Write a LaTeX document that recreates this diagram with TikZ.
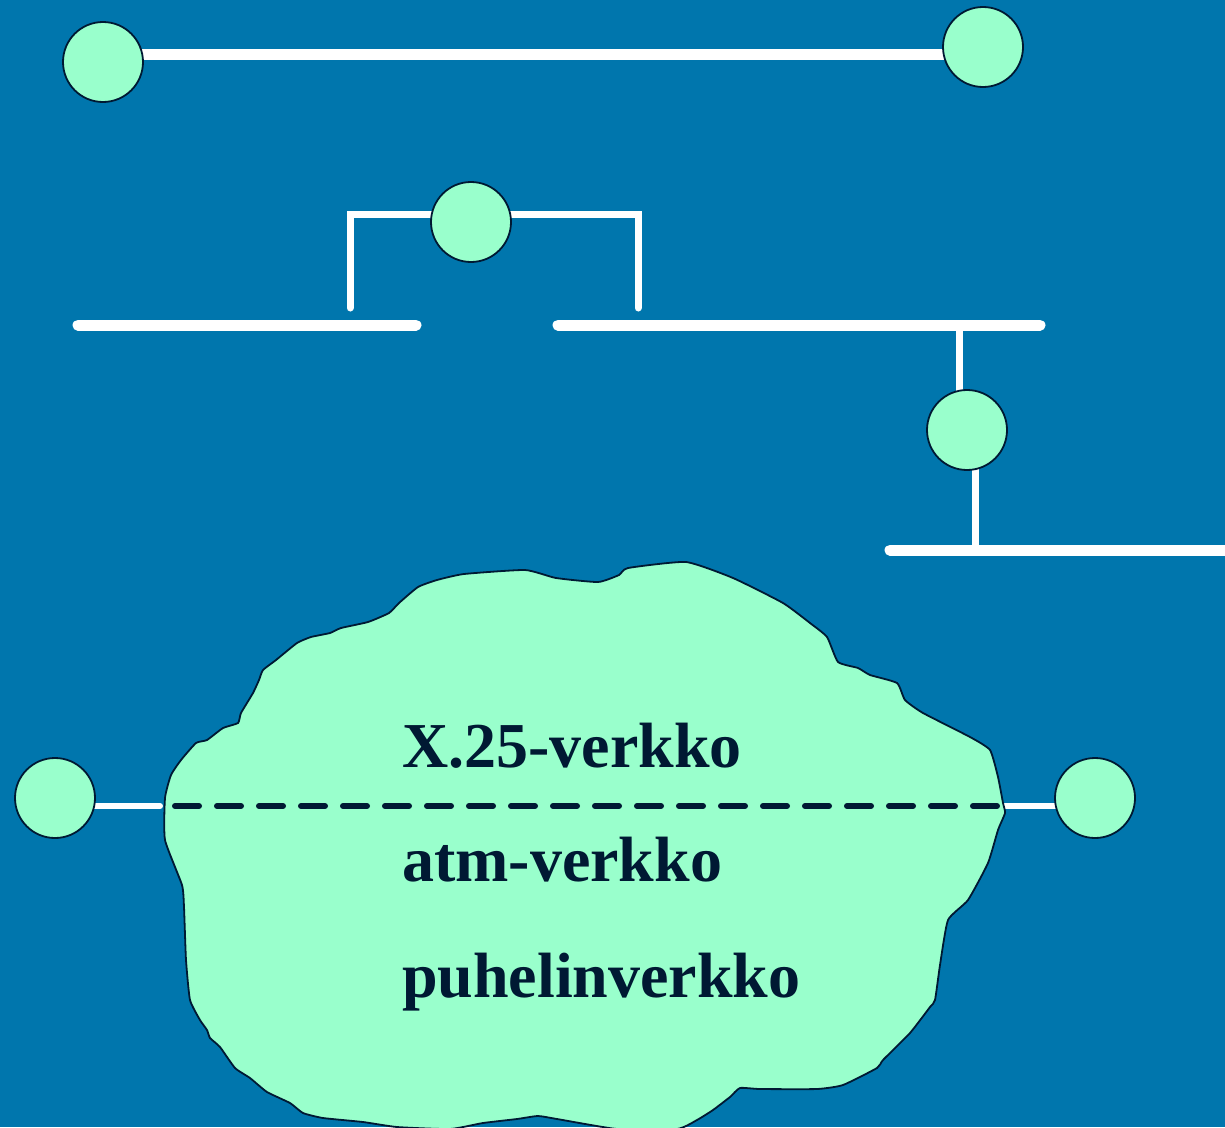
\documentclass[tikz,border=0pt]{standalone}
\usepackage{fontspec}
\setmainfont{Liberation Serif}
\usetikzlibrary{positioning}
\pgfdeclarelayer{back}
\pgfdeclarelayer{wires}
\pgfsetlayers{back,wires,main}
\definecolor{slideblue}{RGB}{0,118,173}
\definecolor{mint}{RGB}{153,255,204}
\definecolor{navy}{RGB}{0,25,51}

\begin{document}
\begin{tikzpicture}[x=1pt, y=-1pt,
    station/.style={circle, draw=navy, line width=1.8pt, fill=mint, minimum size=80pt, inner sep=0pt},
    bus/.style={white, line width=11pt, line cap=round},
    drop/.style={white, line width=7pt, line cap=round},
    netname/.style={anchor=base west, text=navy, inner sep=0pt, font=\bfseries\fontsize{64}{70}\selectfont}]
  \useasboundingbox (0,0) rectangle (1225,1127);
  \begin{pgfonlayer}{back}
    \fill[slideblue] (0,0) rectangle (1225,1127);
  \end{pgfonlayer}

  % Point-to-point link
  \node[station] (g1) at (103,62) {};
  \node[station] (g2) at (983,47) {};

  % Bridged segments
  \node[station] (br) at (471,222) {};
  \node[station] (rt) at (967,430) {};
  \coordinate (lan1a) at (78,325);
  \coordinate (lan1b) at (416,325);
  \coordinate (lan2a) at (558,325);
  \coordinate (lan2b) at (1040,325);
  \coordinate (lan3a) at (890,550);
  \coordinate (lan3b) at (1240,550);
  \coordinate (t1) at (350,308);
  \coordinate (t2) at (638,308);
  \coordinate (t3) at (959,325);
  \coordinate (t4) at (975,550);

  % Hosts across the cloud
  \node[station] (h1) at (55,798) {};
  \node[station] (h2) at (1095,798) {};
  \coordinate (e1) at (160,806);
  \coordinate (e2) at (1003,806);
  \coordinate (d1) at (175,806);
  \coordinate (d2) at (998,806);

  \begin{pgfonlayer}{wires}
    \draw[bus] ([yshift=8pt]g1.center) -- ([yshift=-7pt]g2.center);
    \draw[bus] (lan1a) -- (lan1b);
    \draw[bus] (lan2a) -- (lan2b);
    \draw[bus] (lan3a) -- (lan3b);
    \draw[drop] (t1) |- ([yshift=8pt]br.center) -| (t2);
    \draw[drop] (t3) -- (t3 |- rt.center);
    \draw[drop] (t4) -- (t4 |- rt.center);
    \draw[drop, line width=6pt] ([yshift=-8pt]h1.center) -- (e1);
    \draw[drop, line width=6pt] (e2) -- ([yshift=-8pt]h2.center);
  \end{pgfonlayer}

  % Cloud
  \draw[navy, line width=1.8pt, fill=mint] plot[smooth cycle, tension=0.3] coordinates {
    (165,798) (171,775) (181,760) (196,743) (207,740) (223,728) (238,723) (241,713)
    (253,693) (259,680) (263,670) (276,660) (297,643) (311,637) (330,633) (341,628)
    (368,622) (389,613) (399,603) (418,587) (437,580) (464,574) (525,570) (556,578)
    (598,582) (619,575) (628,568) (686,562) (733,578) (783,603) (810,623) (827,637)
    (838,662) (858,668) (870,675) (897,683) (905,700) (923,713) (970,737) (990,750)
    (998,777) (1003,803) (1005,813) (998,830) (988,863) (968,900) (948,920) (940,965)
    (935,1000) (930,1007) (910,1033) (883,1060) (877,1068) (843,1085) (817,1089)
    (760,1089) (740,1088) (730,1097) (713,1110) (697,1120) (677,1129) (617,1129)
    (557,1119) (538,1116) (517,1119) (483,1123) (450,1129) (397,1127) (363,1122)
    (323,1118) (303,1113) (290,1103) (267,1092) (250,1078) (235,1068) (220,1047)
    (210,1038) (207,1030) (200,1020) (190,1000) (186,960) (184,907) (182,885) (165,840)};
  \draw[navy, line width=6pt, line cap=round, dash pattern=on 24pt off 18pt] (d1) -- (d2);

  \node[netname] (x25) at (402,767) {X.25-verkko};
  \node[netname] (atm) at (402,881) {atm-verkko};
  \node[netname] (puh) at (402,997) {puhelinverkko};
\end{tikzpicture}
\end{document}
